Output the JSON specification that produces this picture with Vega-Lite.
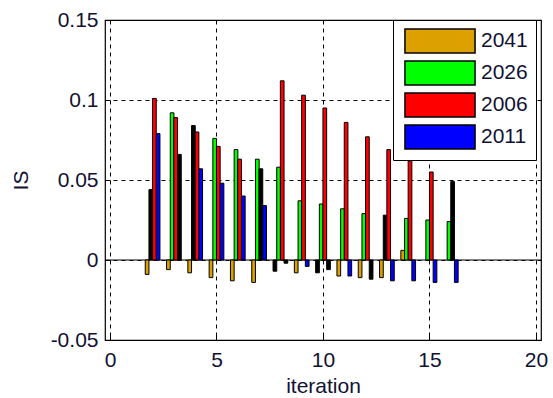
{
  "$schema": "https://vega.github.io/schema/vega-lite/v6.json",
  "width": 436,
  "height": 320,
  "autosize": "none",
  "padding": {"left": 105, "top": 20, "right": 12, "bottom": 58},
  "background": "white",
  "config": {
    "view": {"stroke": "black", "strokeWidth": 1.2},
    "font": "Liberation Sans",
    "axis": {
      "labelFont": "Liberation Sans",
      "titleFont": "Liberation Sans",
      "labelFontSize": 21,
      "titleFontSize": 21,
      "titleFontWeight": "normal",
      "labelColor": "#111133",
      "titleColor": "#111133",
      "labelFlush": false,
      "domain": false,
      "tickColor": "black",
      "tickSize": -5,
      "grid": true,
      "gridColor": "black",
      "gridOpacity": 1,
      "gridDash": [4, 4],
      "gridWidth": 1
    }
  },
  "data": {
    "values": [
      {"iteration": 2, "slot": 1, "series": "2041", "IS": -0.009},
      {"iteration": 2, "slot": 2, "series": "other", "IS": 0.044},
      {"iteration": 2, "slot": 3, "series": "2006", "IS": 0.101},
      {"iteration": 2, "slot": 4, "series": "2011", "IS": 0.079},
      {"iteration": 3, "slot": 1, "series": "2041", "IS": -0.006},
      {"iteration": 3, "slot": 2, "series": "2026", "IS": 0.092},
      {"iteration": 3, "slot": 3, "series": "2006", "IS": 0.089},
      {"iteration": 3, "slot": 4, "series": "other", "IS": 0.066},
      {"iteration": 4, "slot": 1, "series": "2041", "IS": -0.008},
      {"iteration": 4, "slot": 2, "series": "other", "IS": 0.084},
      {"iteration": 4, "slot": 3, "series": "2006", "IS": 0.080},
      {"iteration": 4, "slot": 4, "series": "2011", "IS": 0.057},
      {"iteration": 5, "slot": 1, "series": "2041", "IS": -0.011},
      {"iteration": 5, "slot": 2, "series": "2026", "IS": 0.076},
      {"iteration": 5, "slot": 3, "series": "2006", "IS": 0.071},
      {"iteration": 5, "slot": 4, "series": "2011", "IS": 0.048},
      {"iteration": 6, "slot": 1, "series": "2041", "IS": -0.013},
      {"iteration": 6, "slot": 2, "series": "2026", "IS": 0.069},
      {"iteration": 6, "slot": 3, "series": "2006", "IS": 0.063},
      {"iteration": 6, "slot": 4, "series": "2011", "IS": 0.040},
      {"iteration": 7, "slot": 1, "series": "2041", "IS": -0.014},
      {"iteration": 7, "slot": 2, "series": "2026", "IS": 0.063},
      {"iteration": 7, "slot": 3, "series": "other", "IS": 0.057},
      {"iteration": 7, "slot": 4, "series": "2011", "IS": 0.034},
      {"iteration": 8, "slot": 1, "series": "other", "IS": -0.007},
      {"iteration": 8, "slot": 2, "series": "2026", "IS": 0.058},
      {"iteration": 8, "slot": 3, "series": "2006", "IS": 0.112},
      {"iteration": 8, "slot": 4, "series": "other", "IS": -0.002},
      {"iteration": 9, "slot": 1, "series": "2041", "IS": -0.008},
      {"iteration": 9, "slot": 2, "series": "2026", "IS": 0.037},
      {"iteration": 9, "slot": 3, "series": "2006", "IS": 0.103},
      {"iteration": 9, "slot": 4, "series": "2011", "IS": -0.004},
      {"iteration": 10, "slot": 1, "series": "other", "IS": -0.008},
      {"iteration": 10, "slot": 2, "series": "2026", "IS": 0.035},
      {"iteration": 10, "slot": 3, "series": "2006", "IS": 0.095},
      {"iteration": 10, "slot": 4, "series": "other", "IS": -0.006},
      {"iteration": 11, "slot": 1, "series": "2041", "IS": -0.010},
      {"iteration": 11, "slot": 2, "series": "2026", "IS": 0.032},
      {"iteration": 11, "slot": 3, "series": "2006", "IS": 0.086},
      {"iteration": 11, "slot": 4, "series": "2011", "IS": -0.010},
      {"iteration": 12, "slot": 1, "series": "2041", "IS": -0.011},
      {"iteration": 12, "slot": 2, "series": "2026", "IS": 0.029},
      {"iteration": 12, "slot": 3, "series": "2006", "IS": 0.077},
      {"iteration": 12, "slot": 4, "series": "other", "IS": -0.012},
      {"iteration": 13, "slot": 1, "series": "2041", "IS": -0.011},
      {"iteration": 13, "slot": 2, "series": "other", "IS": 0.028},
      {"iteration": 13, "slot": 3, "series": "2006", "IS": 0.069},
      {"iteration": 13, "slot": 4, "series": "2011", "IS": -0.013},
      {"iteration": 14, "slot": 1, "series": "2041", "IS": 0.006},
      {"iteration": 14, "slot": 2, "series": "2026", "IS": 0.026},
      {"iteration": 14, "slot": 3, "series": "2006", "IS": 0.062},
      {"iteration": 14, "slot": 4, "series": "2011", "IS": -0.013},
      {"iteration": 15, "slot": 2, "series": "2026", "IS": 0.025},
      {"iteration": 15, "slot": 3, "series": "2006", "IS": 0.055},
      {"iteration": 15, "slot": 4, "series": "2011", "IS": -0.014},
      {"iteration": 16, "slot": 2, "series": "2026", "IS": 0.024},
      {"iteration": 16, "slot": 3, "series": "other", "IS": 0.049},
      {"iteration": 16, "slot": 4, "series": "2011", "IS": -0.014}
    ]
  },
  "encoding": {
    "x": {
      "field": "iteration",
      "type": "quantitative",
      "scale": {"domain": [0, 20], "nice": false, "zero": false},
      "axis": {"values": [0, 5, 10, 15, 20], "title": "iteration", "labelFlush": false, "labelAlign": "center", "labelFlushOffset": 0, "labelPadding": 14, "titlePadding": 5}
    },
    "y": {
      "field": "IS",
      "type": "quantitative",
      "scale": {"domain": [-0.05, 0.15], "nice": false},
      "axis": {
        "values": [-0.05, 0, 0.05, 0.1, 0.15],
        "title": "IS",
        "labelFlush": false,
        "labelPadding": 12,
        "titlePadding": 19,
        "labelExpr": "datum.value < 0 ? '-' + format(-datum.value, '~g') : format(datum.value, '~g')"
      }
    },
    "fill": {
      "field": "series",
      "type": "nominal",
      "scale": {
        "domain": ["2041", "2026", "2006", "2011", "other"],
        "range": ["#dca000", "#00ff00", "#ff0000", "#0000ff", "#000000"]
      },
      "legend": {
        "values": ["2041", "2026", "2006", "2011"],
        "title": null,
        "orient": "none",
        "legendX": 288,
        "legendY": 0,
        "padding": 8,
        "strokeColor": "black",
        "fillColor": "white",
        "symbolType": "M-2.92,-1H2.92V1H-2.92Z",
        "symbolSize": 576,
        "symbolStrokeColor": "black",
        "symbolStrokeWidth": 1.5,
        "symbolOpacity": 1,
        "symbolOffset": 26,
        "labelOffset": 28,
        "labelFont": "Liberation Sans",
        "labelFontSize": 21,
        "labelColor": "#111133",
        "rowPadding": 2
      }
    }
  },
  "layer": [
    {
      "data": {"values": [{"base": 0}]},
      "mark": {"type": "rule", "color": "black", "strokeWidth": 1.2},
      "encoding": {"y": {"field": "base", "type": "quantitative"}, "x": null, "fill": null}
    },
    {
      "transform": [{"filter": "datum.slot == 1"}],
      "mark": {"type": "bar", "width": 3.7, "xOffset": -5.5, "stroke": "black", "strokeWidth": 1}
    },
    {
      "transform": [{"filter": "datum.slot == 2"}],
      "mark": {"type": "bar", "width": 3.7, "xOffset": -1.8, "stroke": "black", "strokeWidth": 1}
    },
    {
      "transform": [{"filter": "datum.slot == 3"}],
      "mark": {"type": "bar", "width": 3.7, "xOffset": 1.8, "stroke": "black", "strokeWidth": 1}
    },
    {
      "transform": [{"filter": "datum.slot == 4"}],
      "mark": {"type": "bar", "width": 3.7, "xOffset": 5.5, "stroke": "black", "strokeWidth": 1}
    }
  ]
}
